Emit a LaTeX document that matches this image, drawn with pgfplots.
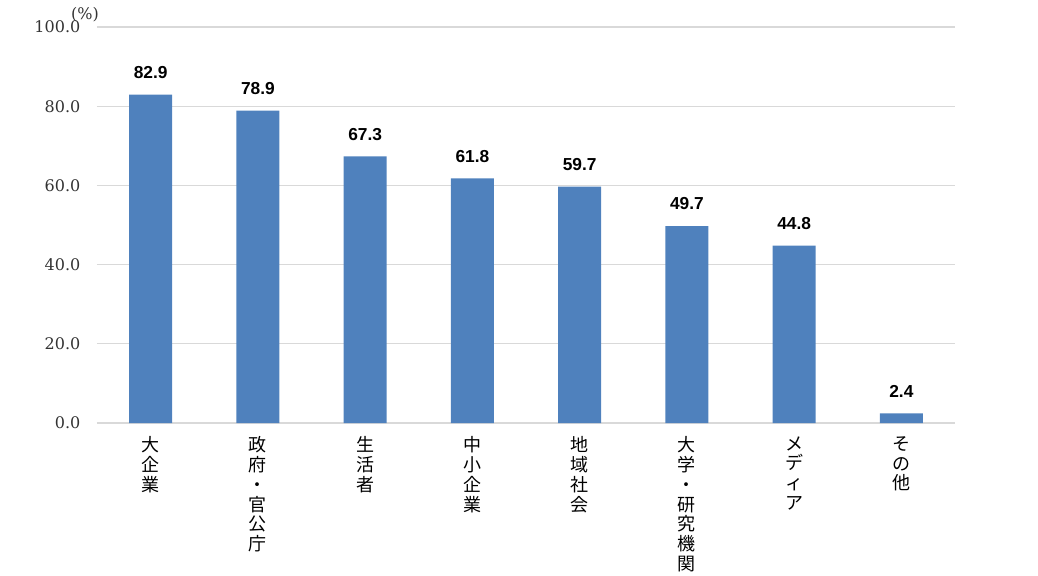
\documentclass[border=0pt]{standalone}
\usepackage{pgfplots}
\pgfplotsset{compat=1.18}
\usepackage{fontspec}
\setmainfont{DejaVu Serif}
\newfontfamily\jp{Noto Sans CJK JP}
\newfontfamily\lsans{Liberation Sans}
\definecolor{barblue}{HTML}{4F81BD}
\definecolor{gridgray}{HTML}{D9D9D9}
\begin{document}
\begin{tikzpicture}[x=1pt,y=1pt]
\begin{axis}[
  scale only axis,
  width=643.5pt, height=297pt,
  xmin=-0.5, xmax=7.5, ymin=0, ymax=100,
  ytick={0,20,40,60,80,100},
  xtick={0,1,2,3,4,5,6,7},
  xticklabels={
    大\\企\\業,
    政\\府\\・\\官\\公\\庁,
    生\\活\\者,
    中\\小\\企\\業,
    地\\域\\社\\会,
    大\\学\\・\\研\\究\\機\\関,
    メ\\デ\\ィ\\ア,
    そ\\の\\他},
  major tick length=0pt,
  axis line style={draw=none},
  ymajorgrids, grid style={draw=gridgray, line width=1pt},
  /pgf/number format/assume math mode=true,
  yticklabel style={/pgf/number format/fixed, /pgf/number format/fixed zerofill, /pgf/number format/precision=1,
    font=\fontsize{12}{14}\selectfont, text=black!80, anchor=east, xshift=-9pt},
  xticklabel style={font=\jp\fontsize{13.5}{14.9}\selectfont, align=center, anchor=north, yshift=-6.5pt},
  nodes near coords,
  nodes near coords style={font=\lsans\bfseries\fontsize{13}{15}\selectfont, black, anchor=south, yshift=8.5pt,
    /pgf/number format/fixed, /pgf/number format/fixed zerofill, /pgf/number format/precision=1},
]
\addplot[ybar, bar width=32.25pt, fill=barblue, draw=none] coordinates {
  (0,82.9) (1,78.9) (2,67.3) (3,61.8) (4,59.7) (5,49.7) (6,44.8) (7,2.4)
};
\end{axis}
\node[font=\fontsize{12}{14}\selectfont, text=black!80] at (-9,306.5) {(\%)};
\pgfresetboundingbox
\useasboundingbox (-72.75,-114) rectangle (705.75,317.25);
\end{tikzpicture}
\end{document}
